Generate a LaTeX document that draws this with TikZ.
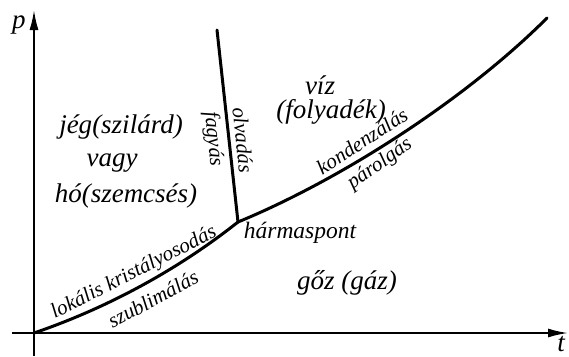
\documentclass[tikz,border=0pt]{standalone}
\usepackage{fontspec}
\setmainfont{Liberation Serif}[ItalicFont={Liberation Serif Italic}]
\usetikzlibrary{arrows.meta}
\tikzset{
  axis/.style={line width=1.8pt,-{Latex[length=20pt,width=9pt]}},
  phase/.style={line width=3pt,line cap=round},
  region/.style={font=\fontsize{27}{30}\selectfont\itshape,inner sep=0pt},
  mid/.style={font=\fontsize{23.5}{26}\selectfont\itshape,inner sep=0pt},
  lab/.style={font=\fontsize{21}{24}\selectfont\itshape,inner sep=0pt},
}
\begin{document}
\begin{tikzpicture}[x=1pt,y=-1pt]
\useasboundingbox (0,0) rectangle (569,356);
\coordinate (O) at (34,333);
\coordinate (Y0) at (34,356);
\coordinate (Ytop) at (34,10);
\coordinate (X0) at (12,333);
\coordinate (Xend) at (568,333);
\coordinate (T) at (238,222);
\coordinate (M) at (217,30);
\coordinate (V) at (547,18);
\draw[axis] (Y0) -- (Ytop);
\draw[axis] (X0) -- (Xend);
\draw[phase] (O) .. controls (110,307) and (180,268) .. (T);
\draw[phase] (T) -- (M);
\draw[phase] (T) .. controls (340,180) and (465,100) .. (V);
\node[region] (p) at (19,25) {p};
\node[region] (t) at (561,344) {t};
\node[region] (jeg) at (121,127) {jég(szilárd)};
\node[region] (vagy) at (112,163) {vagy};
\node[region] (ho) at (126,196) {hó(szemcsés)};
\node[region] (viz) at (320,85) {víz};
\node[region] (foly) at (331,112) {(folyadék)};
\node[region] (goz) at (347,283) {gőz (gáz)};
\node[mid] (harm) at (300,233) {hármaspont};
\node[lab,rotate=-84] (fagy) at (213,139) {fagyás};
\node[lab,rotate=-84] (olv) at (243,140) {olvadás};
\node[lab,rotate=27] (lok) at (134,273) {lokális kristályosodás};
\node[lab,rotate=28] (szub) at (153,299) {szublimálás};
\node[lab,rotate=33] (kond) at (362,141) {kondenzálás};
\node[lab,rotate=35] (parol) at (380,164) {párolgás};
\end{tikzpicture}
\end{document}
